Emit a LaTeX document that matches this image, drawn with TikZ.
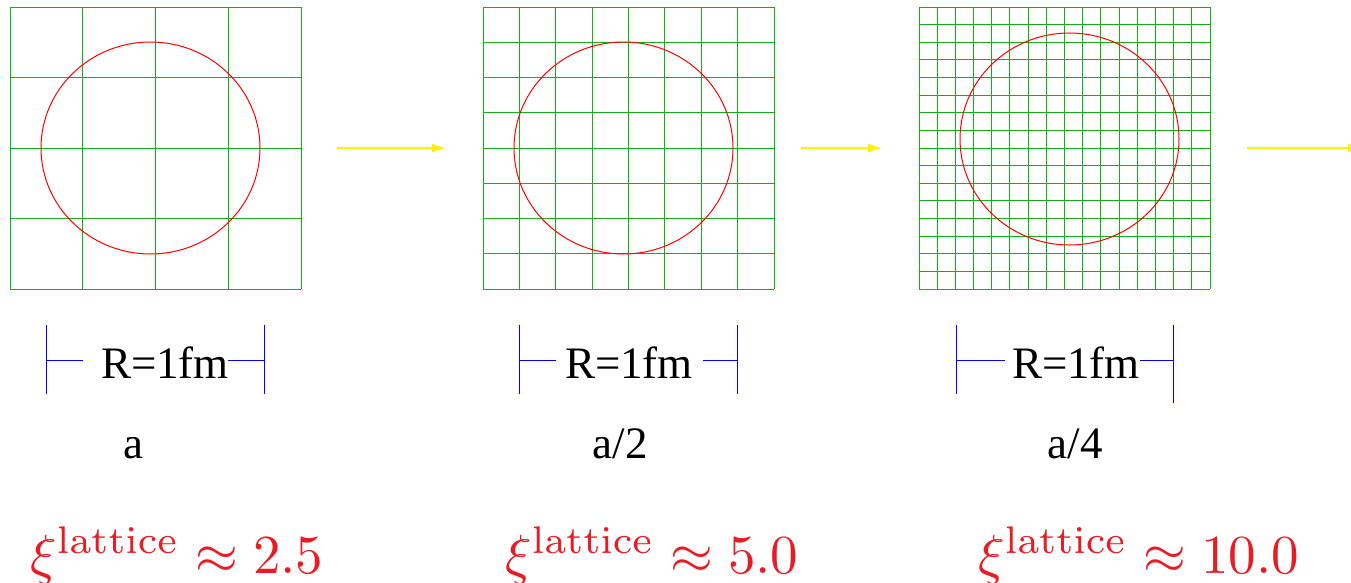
\documentclass[tikz,border=0pt]{standalone}
\usepackage{graphicx}
\usepackage[no-math]{fontspec}
\setmainfont{Liberation Serif}
\usetikzlibrary{arrows.meta}
\definecolor{latgreen}{RGB}{20,175,20}
\definecolor{xired}{RGB}{232,28,36}

% lattice of n x n cells, left edge at #1
\newcommand{\latgrid}[2]{%
  \foreach \k in {0,...,#2} {
    \draw[latline] ({#1+\k*291/#2},7) -- ({#1+\k*291/#2},289);
    \draw[latline] (#1,{7+\k*282/#2}) -- ({#1+291},{7+\k*282/#2});
  }
}

\begin{document}
\begin{tikzpicture}[x=1pt,y=-1pt,
    latline/.style={latgreen, line width=1pt},
    nucleus/.style={red, line width=1pt},
    flowarrow/.style={yellow, line width=1.4pt, -{Latex[length=14pt,width=9pt]}},
    barline/.style={blue, line width=1pt},
    sizelabel/.style={font=\fontsize{45}{50}\selectfont, inner sep=0pt, anchor=base},
    xilabel/.style={xired, font=\normalsize, inner sep=0pt, anchor=base west}]
    \useasboundingbox (0,0) rectangle (1351,582);

    % grids
    \latgrid{10}{4}
    \latgrid{483}{8}
    \latgrid{919}{16}

    % nuclei
    \draw[nucleus] (150.5,148) ellipse (109.5 and 106);
    \draw[nucleus] (623.5,148) ellipse (109.5 and 106);
    \draw[nucleus] (1069.5,139) ellipse (109.5 and 106);

    % arrows
    \coordinate (arrAs) at (337,148);
    \coordinate (arrAe) at (446,148);
    \coordinate (arrBs) at (801,148);
    \coordinate (arrBe) at (882,148);
    \coordinate (arrCs) at (1247,148);
    \coordinate (arrCe) at (1362,148);
    \draw[flowarrow] (arrAs) -- (arrAe);
    \draw[flowarrow] (arrBs) -- (arrBe);
    \draw[flowarrow] (arrCs) -- (arrCe);

    % radius bars
    \node[sizelabel] (radA) at (165,378) {R=1fm};
    \node[sizelabel] (radB) at (629,378) {R=1fm};
    \node[sizelabel] (radC) at (1076,378) {R=1fm};

    \draw[barline] (46,325) -- (46,394);
    \draw[barline] (264,325) -- (264,394);
    \draw[barline] (46,360) -- (83,360);
    \draw[barline] (228,360) -- (264,360);

    \draw[barline] (519,325) -- (519,394);
    \draw[barline] (737,325) -- (737,394);
    \draw[barline] (519,360) -- (556,360);
    \draw[barline] (703,360) -- (737,360);

    \draw[barline] (956,325) -- (956,394);
    \draw[barline] (1173,325) -- (1173,403);
    \draw[barline] (956,360) -- (1005,360);
    \draw[barline] (1140,360) -- (1173,360);

    % spacings
    \node[sizelabel] (spA) at (133,458) {a};
    \node[sizelabel] (spB) at (620,458) {a/2};
    \node[sizelabel] (spC) at (1075,458) {a/4};

    % correlation lengths
    \node[xilabel] (xiA) at (30,573) {\scalebox{5.5}{$\xi^{\mathrm{lattice}}\approx 2.5$}};
    \node[xilabel] (xiB) at (505,573) {\scalebox{5.5}{$\xi^{\mathrm{lattice}}\approx 5.0$}};
    \node[xilabel] (xiC) at (978,573) {\scalebox{5.5}{$\xi^{\mathrm{lattice}}\approx 10.0$}};
\end{tikzpicture}
\end{document}
